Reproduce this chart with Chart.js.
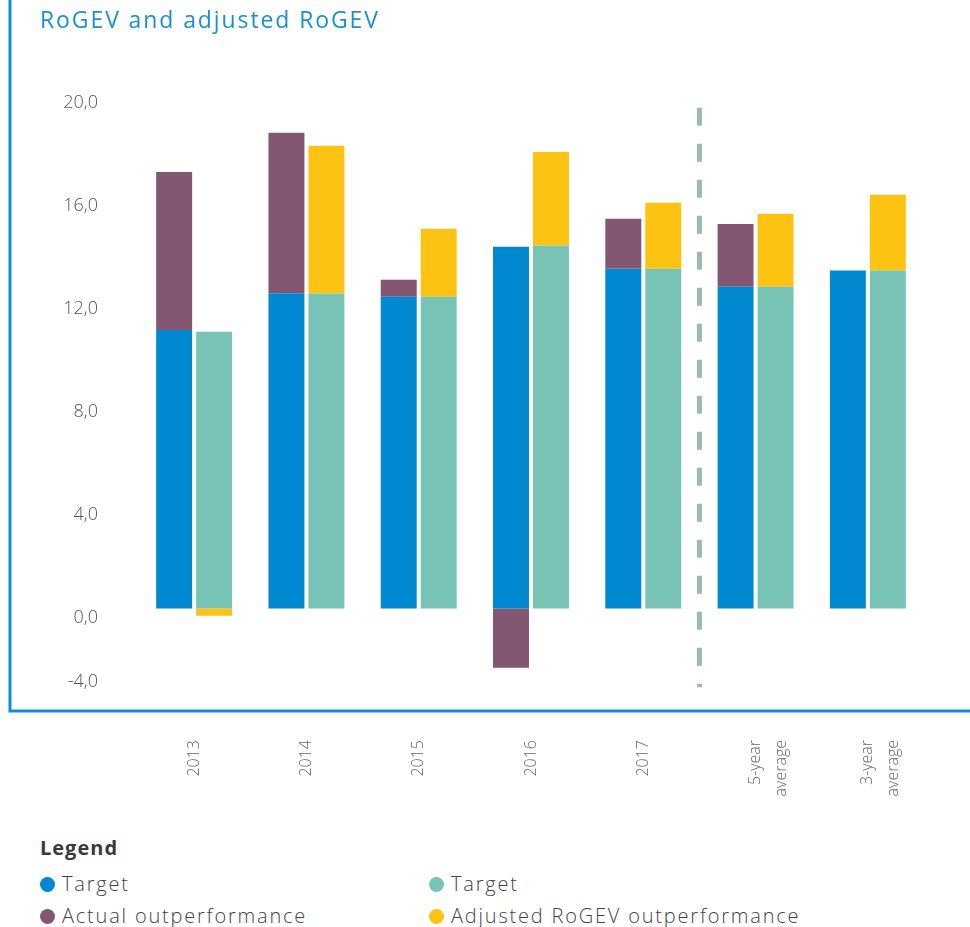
<!DOCTYPE html>
<html>
<head>
<meta charset="utf-8">
<script src="https://cdn.jsdelivr.net/npm/chart.js@4"></script>
<style>
  body { margin: 0; background: #fff; font-family: "Open Sans", sans-serif; }
  #wrap { position: relative; width: 970px; height: 927px; }
  #title { position: absolute; left: 40px; top: 3px; font-size: 23px; color: #1a8fd2; font-weight: 400; letter-spacing: 1.9px; }
  #chart { position: absolute; left: 0; top: 0; }
  #legend { position: absolute; left: 40px; top: 834px; color: #4a4a4a; }
  #legend h3 { margin: 0; font-size: 20px; font-weight: 700; color: #3a3a3a; letter-spacing: 1px; }
  .item { position: absolute; font-size: 20px; font-weight: 300; white-space: nowrap; letter-spacing: 1.8px; color: #444; }
  .dot { display: inline-block; width: 15px; height: 15px; border-radius: 50%; margin-right: 7px; vertical-align: -1px; }
</style>
</head>
<body>
<div id="wrap">
  <canvas id="chart" width="970" height="810"></canvas>
  <div id="title">RoGEV and adjusted RoGEV</div>
  <div id="legend">
    <h3>Legend</h3>
  </div>
</div>
<script>
// categories and series
var categories = ['2013', '2014', '2015', '2016', '2017', ['5-year', 'average'], ['3-year', 'average']];
var targetActual = [10.99, 12.44, 12.30, 14.27, 13.40, 12.69, 13.33];
var actualOutperformance = [6.23, 6.32, 0.67, -2.33, 1.97, 2.48, 0];
var targetAdjusted = [10.92, 12.43, 12.30, 14.32, 13.40, 12.69, 13.33];
var adjustedOutperformance = [-0.28, 5.82, 2.68, 3.69, 2.60, 2.88, 2.99];
var yTicks = [20, 16, 12, 8, 4, 0, -4];

var colors = {
    blue: '#0089d1',
    teal: '#77c4b7',
    purple: '#835672',
    yellow: '#fdc312',
    axis: '#0a8fd6',
    dash: '#9db9b5'
};

var legendItems = [
    { label: 'Target', color: colors.blue, x: 0, y: 36 },
    { label: 'Target', color: colors.teal, x: 389, y: 36 },
    { label: 'Actual outperformance', color: colors.purple, x: 0, y: 68 },
    { label: 'Adjusted RoGEV outperformance', color: colors.yellow, x: 389, y: 68 }
];

var legendNode = document.getElementById('legend');
legendItems.forEach(function(it) {
    var div = document.createElement('div');
    div.className = 'item';
    div.style.left = it.x + 'px';
    div.style.top = it.y + 'px';
    div.innerHTML = '<span class="dot" style="background:' + it.color + '"></span>' + it.label;
    legendNode.appendChild(div);
});

// axis lines, y labels, dashed separator
var decorations = {
    id: 'decorations',
    afterDraw: function(chart) {
        var ctx = chart.ctx;
        var y = chart.scales.y;
        var x = chart.scales.x;
        var area = chart.chartArea;
        ctx.save();

        // dashed separator between 2017 and the averages
        var sepX = (x.getPixelForValue(4) + x.getPixelForValue(5)) / 2;
        ctx.strokeStyle = colors.dash;
        ctx.lineWidth = 5;
        ctx.setLineDash([18, 18]);
        ctx.beginPath();
        ctx.moveTo(sepX, y.getPixelForValue(19.75));
        ctx.lineTo(sepX, y.getPixelForValue(-3.1));
        ctx.stroke();
        ctx.setLineDash([]);

        // y labels (the printed labels drift slightly below their values)
        ctx.fillStyle = '#555';
        ctx.font = '300 18px "Open Sans"';
        ctx.textAlign = 'right';
        ctx.textBaseline = 'middle';
        yTicks.forEach(function(v) {
            var py = y.getPixelForValue(v) + 1.5 + (20 - v) * 0.375;
            if (v === y.min) py = area.bottom - 28;
            ctx.fillText(v.toFixed(1).replace('.', ','), 98, py);
        });

        // L-shaped axis
        ctx.strokeStyle = colors.axis;
        ctx.lineWidth = 3;
        ctx.beginPath();
        ctx.moveTo(10, 0);
        ctx.lineTo(10, area.bottom + 1);
        ctx.lineTo(970, area.bottom + 1);
        ctx.stroke();
        ctx.restore();
    }
};

var common = { categoryPercentage: 0.712, barPercentage: 0.9, borderWidth: 0 };

new Chart(document.getElementById('chart'), {
    type: 'bar',
    data: {
        labels: categories,
        datasets: [
            Object.assign({ label: 'Target', data: targetActual, backgroundColor: colors.blue, stack: 'actual' }, common),
            Object.assign({ label: 'Actual outperformance', data: actualOutperformance, backgroundColor: colors.purple, stack: 'actual' }, common),
            Object.assign({ label: 'Target', data: targetAdjusted, backgroundColor: colors.teal, stack: 'adjusted' }, common),
            Object.assign({ label: 'Adjusted RoGEV outperformance', data: adjustedOutperformance, backgroundColor: colors.yellow, stack: 'adjusted' }, common)
        ]
    },
    options: {
        responsive: false,
        animation: false,
        layout: { padding: { left: 138, right: 46, top: 0, bottom: 0 } },
        plugins: {
            legend: { display: false },
            tooltip: { enabled: false }
        },
        scales: {
            x: {
                stacked: true,
                grid: { display: false },
                border: { display: false },
                afterFit: function(s) { s.height = 100; },
                ticks: {
                    color: '#666',
                    font: { family: '"Open Sans"', size: 16, weight: '300', lineHeight: 1.6 },
                    minRotation: 90,
                    maxRotation: 90,
                    padding: 22,
                    autoSkip: false
                }
            },
            y: {
                stacked: true,
                display: false,
                min: -4,
                max: 24
            }
        }
    },
    plugins: [decorations]
});
</script>
</body>
</html>
